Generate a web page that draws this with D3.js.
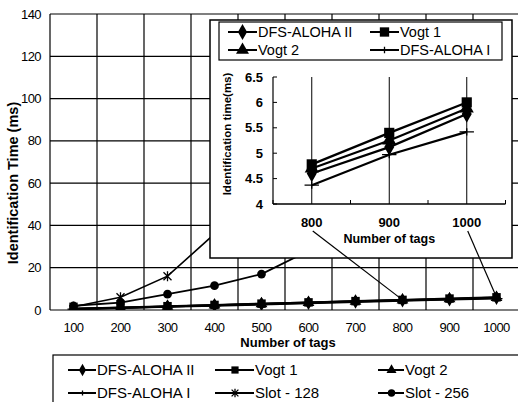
<!DOCTYPE html>
<html>
<head>
<meta charset="utf-8">
<script src="https://cdn.jsdelivr.net/npm/d3@7"></script>
<style>
    body { margin: 0; background: #fff; }
    text { font-family: "Liberation Sans", Arial, sans-serif; fill: #000; }
</style>
</head>
<body>
<svg id="chart"></svg>
<script>
/*--------------------------------------------------------------------------------
----- DATA
--------------------------------------------------------------------------------*/

// Main chart categories and y ticks
const tag_counts = ["100", "200", "300", "400", "500", "600", "700", "800", "900", "1000"];
const time_ticks = [0, 20, 40, 60, 80, 100, 120, 140];

// Main chart series values (ms)
const dfs_aloha_2 = [0.5, 1.0, 1.6, 2.2, 2.8, 3.4, 4.0, 4.6, 5.12, 5.77];
const vogt_1 = [0.6, 1.2, 1.8, 2.4, 3.0, 3.6, 4.2, 4.78, 5.4, 6.0];
const vogt_2 = [0.55, 1.1, 1.7, 2.3, 2.9, 3.5, 4.1, 4.7, 5.25, 5.88];
const dfs_aloha_1 = [0.45, 0.95, 1.5, 2.0, 2.6, 3.2, 3.8, 4.37, 4.97, 5.42];
const slot_128 = [1.5, 6, 16, 36, 72, 125];
const slot_256 = [2, 3.5, 7.5, 11.5, 17, 28, 45];

// Zoomed inset categories, ticks and values
const zoom_tags = ["800", "900", "1000"];
const zoom_ticks = [4, 4.5, 5, 5.5, 6, 6.5];
const zoom_dfs_aloha_2 = [4.6, 5.12, 5.77];
const zoom_vogt_1 = [4.78, 5.4, 6.0];
const zoom_vogt_2 = [4.7, 5.25, 5.88];
const zoom_dfs_aloha_1 = [4.37, 4.97, 5.42];

/*--------------------------------------------------------------------------------
----- SETUP
--------------------------------------------------------------------------------*/

const width = 518, height = 402;
const svg = d3.select("#chart").attr("width", width).attr("height", height);

// Marker shapes used by the series
const marker_paths = {
    diamond: d3.symbol().type(d3.symbolDiamond).size(60)(),
    square: d3.symbol().type(d3.symbolSquare).size(72)(),
    triangle: d3.symbol().type(d3.symbolTriangle).size(60)(),
    circle: d3.symbol().type(d3.symbolCircle).size(60)(),
    plus: "M-6,0H6M0,-3V3",
    star: "M-4,-4L4,4M-4,4L4,-4M0,-5V5"
};
const stroke_markers = ["plus", "star"];

function draw_marker(g, marker, x, y, scale = 1) {
    const p = g.append("path")
        .attr("d", marker_paths[marker])
        .attr("transform", `translate(${x},${y}) scale(${scale})`);
    if (stroke_markers.includes(marker)) {
        p.attr("fill", "none").attr("stroke", "#000").attr("stroke-width", 1.3 / scale);
    } else {
        p.attr("fill", "#000");
    }
}

// Series drawn in the main chart (order = drawing order)
const main_series = [
    { name: "Slot - 256", values: slot_256, marker: "circle", width: 1.8 },
    { name: "Slot - 128", values: slot_128, marker: "star", width: 1.6 },
    { name: "DFS-ALOHA I", values: dfs_aloha_1, marker: "plus", width: 2 },
    { name: "Vogt 2", values: vogt_2, marker: "triangle", width: 2 },
    { name: "DFS-ALOHA II", values: dfs_aloha_2, marker: "diamond", width: 2 },
    { name: "Vogt 1", values: vogt_1, marker: "square", width: 2 }
];

/*--------------------------------------------------------------------------------
----- MAIN CHART
--------------------------------------------------------------------------------*/

const main_left = 50, main_right = 520, main_top = 14, main_bottom = 310;

const x_scale = d3.scaleBand()
    .domain(tag_counts)
    .range([main_left, main_right]);
const y_scale = d3.scaleLinear()
    .domain([0, 140])
    .range([main_bottom, main_top]);
const x_mid = d => x_scale(d) + x_scale.bandwidth() / 2;

// Horizontal gridlines
svg.append("g").selectAll("line")
    .data(time_ticks)
    .enter().append("line")
    .attr("x1", main_left).attr("x2", main_right)
    .attr("y1", d => y_scale(d)).attr("y2", d => y_scale(d))
    .attr("stroke", "#000").attr("stroke-width", 1.2);

// Vertical gridlines at category boundaries
svg.append("g").selectAll("line")
    .data(tag_counts)
    .enter().append("line")
    .attr("x1", d => x_scale(d)).attr("x2", d => x_scale(d))
    .attr("y1", main_top).attr("y2", main_bottom)
    .attr("stroke", "#000").attr("stroke-width", 1.2);

// Y tick labels
svg.append("g").selectAll("text")
    .data(time_ticks)
    .enter().append("text")
    .attr("x", 41)
    .attr("y", d => y_scale(d))
    .attr("dy", "0.35em")
    .attr("text-anchor", "end")
    .style("font-size", "13px")
    .style("letter-spacing", "-0.6px")
    .text(d => d);

// X tick labels
svg.append("g").selectAll("text")
    .data(tag_counts)
    .enter().append("text")
    .attr("x", d => x_mid(d))
    .attr("y", 332)
    .attr("text-anchor", "middle")
    .style("font-size", "13px")
    .style("letter-spacing", "-0.6px")
    .text(d => d);

// Axis titles
svg.append("text")
    .attr("transform", "translate(13,183) rotate(-90)")
    .attr("dy", "0.35em")
    .attr("text-anchor", "middle")
    .style("font-size", "14.5px")
    .style("font-weight", "bold")
    .text("Identification Time (ms)");
svg.append("text")
    .attr("x", 288).attr("y", 347)
    .attr("text-anchor", "middle")
    .style("font-size", "13px")
    .style("font-weight", "bold")
    .text("Number of tags");

// Clip the series to the plotting area
svg.append("clipPath").attr("id", "main-clip")
    .append("rect")
    .attr("x", main_left).attr("y", main_top)
    .attr("width", main_right - main_left).attr("height", main_bottom - main_top);

const main_lines = svg.append("g").attr("clip-path", "url(#main-clip)");
const main_line = d3.line()
    .x((d, i) => x_mid(tag_counts[i]))
    .y(d => y_scale(d));

main_series.forEach(s => {
    main_lines.append("path")
        .attr("d", main_line(s.values))
        .attr("fill", "none")
        .attr("stroke", "#000")
        .attr("stroke-width", s.width);
    s.values.forEach((v, i) => draw_marker(main_lines, s.marker, x_mid(tag_counts[i]), y_scale(v)));
});

/*--------------------------------------------------------------------------------
----- ZOOMED INSET
--------------------------------------------------------------------------------*/

const zoom_left = 273, zoom_right = 505.5, zoom_top = 77, zoom_bottom = 204;

const zoom_x_scale = d3.scaleBand()
    .domain(zoom_tags)
    .range([zoom_left, zoom_right]);
const zoom_y_scale = d3.scaleLinear()
    .domain([4, 6.5])
    .range([zoom_bottom, zoom_top]);
const zoom_mid = d => zoom_x_scale(d) + zoom_x_scale.bandwidth() / 2;

// Inset frame
svg.append("rect")
    .attr("x", 210).attr("y", 20)
    .attr("width", 302).attr("height", 238)
    .attr("fill", "#fff").attr("stroke", "#000").attr("stroke-width", 1.5);

// Connector lines from the inset labels to the main points
const connectors = [["800", 7], ["1000", 9]];
svg.append("g").selectAll("line")
    .data(connectors)
    .enter().append("line")
    .attr("x1", d => zoom_mid(d[0]) + 1)
    .attr("y1", 231)
    .attr("x2", d => x_mid(tag_counts[d[1]]))
    .attr("y2", d => y_scale(vogt_1[d[1]]))
    .attr("stroke", "#000").attr("stroke-width", 1.2);

const zoom_g = svg.append("g");

// Vertical lines at each inset category
zoom_g.selectAll(".vline")
    .data(zoom_tags)
    .enter().append("line")
    .attr("x1", d => zoom_mid(d)).attr("x2", d => zoom_mid(d))
    .attr("y1", zoom_top).attr("y2", zoom_bottom)
    .attr("stroke", "#000").attr("stroke-width", 1);

// Inset axes
zoom_g.append("line")
    .attr("x1", zoom_left).attr("x2", zoom_left)
    .attr("y1", zoom_top).attr("y2", zoom_bottom)
    .attr("stroke", "#000").attr("stroke-width", 1.2);
zoom_g.append("line")
    .attr("x1", zoom_left).attr("x2", zoom_right)
    .attr("y1", zoom_bottom).attr("y2", zoom_bottom)
    .attr("stroke", "#000").attr("stroke-width", 1.5);
zoom_g.selectAll(".ytick")
    .data(zoom_ticks)
    .enter().append("line")
    .attr("x1", zoom_left).attr("x2", zoom_left + 4)
    .attr("y1", d => zoom_y_scale(d)).attr("y2", d => zoom_y_scale(d))
    .attr("stroke", "#000");
zoom_g.selectAll(".xtick")
    .data(zoom_tags.concat(["end"]))
    .enter().append("line")
    .attr("x1", (d, i) => zoom_left + i * zoom_x_scale.bandwidth())
    .attr("x2", (d, i) => zoom_left + i * zoom_x_scale.bandwidth())
    .attr("y1", zoom_bottom).attr("y2", zoom_bottom - 4)
    .attr("stroke", "#000");

zoom_g.selectAll(".ylabel")
    .data(zoom_ticks)
    .enter().append("text")
    .attr("x", 263)
    .attr("y", d => zoom_y_scale(d))
    .attr("dy", "0.35em")
    .attr("text-anchor", "end")
    .style("font-size", "13px")
    .style("font-weight", "bold")
    .text(d => d);
zoom_g.selectAll(".xlabel")
    .data(zoom_tags)
    .enter().append("text")
    .attr("x", d => zoom_mid(d))
    .attr("y", 227)
    .attr("text-anchor", "middle")
    .style("font-size", "13px")
    .style("font-weight", "bold")
    .text(d => d);

zoom_g.append("text")
    .attr("transform", "translate(227,134) rotate(-90)")
    .attr("dy", "0.35em")
    .attr("text-anchor", "middle")
    .style("font-size", "11.5px")
    .style("font-weight", "bold")
    .text("Identification time(ms)");
zoom_g.append("text")
    .attr("x", (zoom_left + zoom_right) / 2)
    .attr("y", 243)
    .attr("text-anchor", "middle")
    .style("font-size", "12.5px")
    .style("font-weight", "bold")
    .text("Number of tags");

// Inset series
const zoom_series = [
    { name: "DFS-ALOHA I", values: zoom_dfs_aloha_1, marker: "plus" },
    { name: "Vogt 2", values: zoom_vogt_2, marker: "triangle" },
    { name: "DFS-ALOHA II", values: zoom_dfs_aloha_2, marker: "diamond" },
    { name: "Vogt 1", values: zoom_vogt_1, marker: "square" }
];
const zoom_line = d3.line()
    .x((d, i) => zoom_mid(zoom_tags[i]))
    .y(d => zoom_y_scale(d));
zoom_series.forEach(s => {
    zoom_g.append("path")
        .attr("d", zoom_line(s.values))
        .attr("fill", "none")
        .attr("stroke", "#000")
        .attr("stroke-width", 2.2);
    s.values.forEach((v, i) => draw_marker(zoom_g, s.marker, zoom_mid(zoom_tags[i]), zoom_y_scale(v), 1.2));
});

// Inset legend
zoom_g.append("rect")
    .attr("x", 219).attr("y", 22)
    .attr("width", 283).attr("height", 38)
    .attr("fill", "#fff").attr("stroke", "#000").attr("stroke-width", 1.2);

const zoom_legend = [
    { name: "DFS-ALOHA II", marker: "diamond", x: 228, y: 32 },
    { name: "Vogt 1", marker: "square", x: 370, y: 32 },
    { name: "Vogt 2", marker: "triangle", x: 228, y: 50 },
    { name: "DFS-ALOHA I", marker: "plus", x: 370, y: 50 }
];
zoom_legend.forEach(d => {
    zoom_g.append("line")
        .attr("x1", d.x).attr("x2", d.x + 29)
        .attr("y1", d.y).attr("y2", d.y)
        .attr("stroke", "#000").attr("stroke-width", 2);
    draw_marker(zoom_g, d.marker, d.x + 14.5, d.y, 1.1);
    zoom_g.append("text")
        .attr("x", d.x + 30).attr("y", d.y)
        .attr("dy", "0.35em")
        .style("font-size", "14.5px")
        .text(d.name);
});

/*--------------------------------------------------------------------------------
----- BOTTOM LEGEND
--------------------------------------------------------------------------------*/

svg.append("rect")
    .attr("x", 53).attr("y", 355)
    .attr("width", 480).attr("height", 60)
    .attr("fill", "none").attr("stroke", "#000").attr("stroke-width", 1.2);

const legend_entries = [
    { name: "DFS-ALOHA II", marker: "diamond" },
    { name: "Vogt 1", marker: "square" },
    { name: "Vogt 2", marker: "triangle" },
    { name: "DFS-ALOHA I", marker: "plus" },
    { name: "Slot - 128", marker: "star" },
    { name: "Slot - 256", marker: "circle" }
];
const legend_cols = [{ x1: 68, tx: 97 }, { x1: 215, tx: 255 }, { x1: 378, tx: 405 }];
const legend_rows = [370, 393];

legend_entries.forEach((d, i) => {
    const col = legend_cols[i % 3], y = legend_rows[Math.floor(i / 3)];
    svg.append("line")
        .attr("x1", col.x1).attr("x2", col.tx - 1)
        .attr("y1", y).attr("y2", y)
        .attr("stroke", "#000").attr("stroke-width", 2);
    draw_marker(svg, d.marker, (col.x1 + col.tx) / 2, y, 0.85);
    svg.append("text")
        .attr("x", col.tx).attr("y", y)
        .attr("dy", "0.35em")
        .style("font-size", "15px")
        .text(d.name);
});
</script>
</body>
</html>
